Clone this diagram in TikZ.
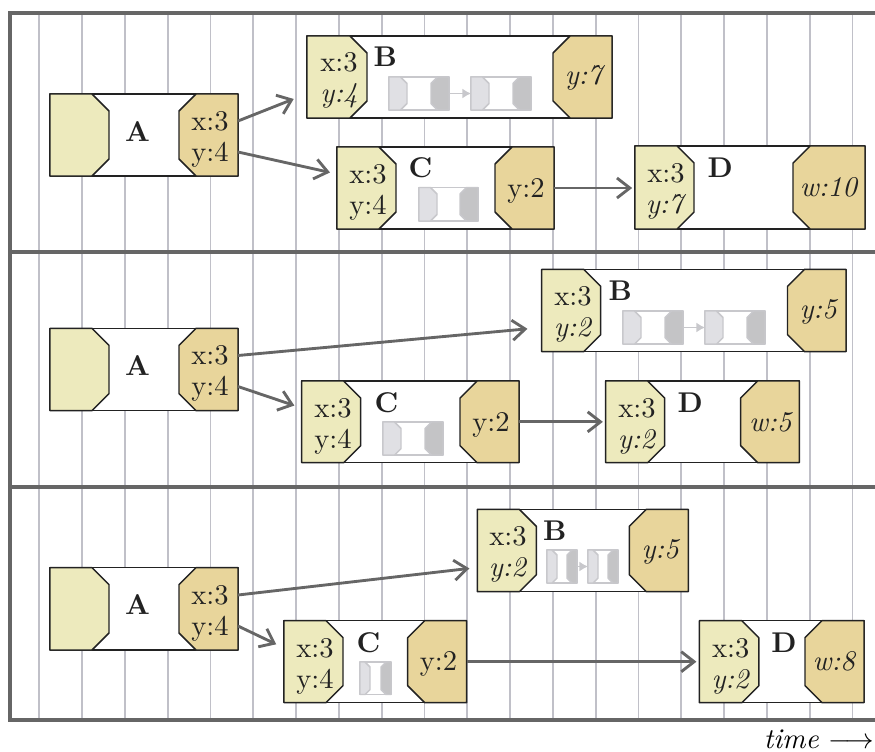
\documentclass[tikz,border=0pt]{standalone}
\usetikzlibrary{arrows.meta}
\definecolor{boxline}{RGB}{34,34,34}
\definecolor{incol}{RGB}{237,234,189}
\definecolor{outcol}{RGB}{232,213,155}
\definecolor{gridgray}{RGB}{192,192,200}
\definecolor{framegray}{RGB}{102,102,102}
\definecolor{minigray}{RGB}{200,200,204}
\definecolor{miniincol}{RGB}{224,224,228}
\definecolor{minioutcol}{RGB}{196,196,198}
\tikzset{
  jobbox/.style={draw=boxline, fill=white, line width=0.5pt, inner sep=0pt, outer sep=0pt},
  minibox/.style={draw=minigray, fill=white, line width=0.5pt, inner sep=0pt, outer sep=0pt},
  portin/.style={draw=boxline, fill=incol, line width=0.5pt},
  portout/.style={draw=boxline, fill=outcol, line width=0.5pt},
  miniin/.style={draw=minigray, fill=miniincol, line width=0.5pt},
  miniout/.style={draw=minigray, fill=minioutcol, line width=0.5pt},
  porttext/.style={inner sep=0pt, text height=6.5pt, text depth=0pt, text=boxline},
  joblabel/.style={inner sep=0pt, anchor=west, font=\bfseries, text=boxline},
  flow/.style={draw=framegray, line width=1pt, -{Straight Barb[length=4.5pt,width=7pt]}},
  miniflow/.style={draw=minigray, line width=0.6pt, -{Latex[length=3pt,width=3.5pt]}},
  gridline/.style={draw=gridgray, line width=0.6pt},
  frame/.style={draw=framegray, line width=1.4pt, line join=miter}
}
% style, name, x1, y1, x2, y2
\newcommand{\jobbox}[6]{%
  \node[#1, minimum width={(#5-#3)*0.35pt}, minimum height={(#6-#4)*0.35pt}] (#2) at ({(#3+#5)/2},{(#4+#6)/2}) {};}
% [chamfer] node, width, style
\newcommand{\inport}[4][17]{%
  \path[#4] (#2.north west) -- ([xshift={(#3-#1)*0.35pt}]#2.north west)
    -- ([xshift={#3*0.35pt}, yshift={-#1*0.35pt}]#2.north west)
    -- ([xshift={#3*0.35pt}, yshift={#1*0.35pt}]#2.south west)
    -- ([xshift={(#3-#1)*0.35pt}]#2.south west) -- (#2.south west) -- cycle;}
\newcommand{\outport}[4][17]{%
  \path[#4] (#2.north east) -- ([xshift={-(#3-#1)*0.35pt}]#2.north east)
    -- ([xshift={-#3*0.35pt}, yshift={-#1*0.35pt}]#2.north east)
    -- ([xshift={-#3*0.35pt}, yshift={#1*0.35pt}]#2.south east)
    -- ([xshift={-(#3-#1)*0.35pt}]#2.south east) -- (#2.south east) -- cycle;}
\begin{document}
\begin{tikzpicture}[x=0.35pt, y=-0.35pt, line join=round]
\useasboundingbox (0,0) rectangle (875,752);
\foreach \i in {0,...,19}
  \draw[gridline] ({39.3+42.8*\i},13) -- ({39.3+42.8*\i},720);
\draw[frame] (875,13) -- (10,13) -- (10,720) -- (875,720);
\draw[frame] (10,252) -- (875,252);
\draw[frame] (10,487) -- (875,487);

% first run
\jobbox{jobbox}{A1}{50}{94}{238}{176}
\inport{A1}{59}{portin} \outport{A1}{59}{portout}
\node[joblabel, anchor=center] (A1l) at (137.5,131.7) {A};
\node[porttext] (A1x) at (210,121) {x:3};
\node[porttext] (A1y) at (210,152) {y:4};

\jobbox{jobbox}{B1}{307}{36}{612}{118}
\inport{B1}{60}{portin} \outport{B1}{59}{portout}
\node[joblabel] (B1l) at (373,57) {B};
\node[porttext] (B1x) at (339,62.7) {x:3};
\node[porttext] (B1y) at (339,93.7) {\textit{y:4}};
\node[porttext] (B1o) at (585,75) {\textit{y:7}};
\jobbox{minibox}{B1m1}{389}{77}{449}{110}
\inport[6.5]{B1m1}{18}{miniin} \outport[6.5]{B1m1}{18}{miniout}
\jobbox{minibox}{B1m2}{471}{77}{531}{110}
\inport[6.5]{B1m2}{18}{miniin} \outport[6.5]{B1m2}{18}{miniout}
\draw[miniflow] (B1m1.east) -- (B1m2.west);

\jobbox{jobbox}{C1}{337}{147}{554}{229}
\inport{C1}{59}{portin} \outport{C1}{59}{portout}
\node[joblabel] (C1l) at (408,168.2) {C};
\node[porttext] (C1x) at (368,174) {x:3};
\node[porttext] (C1y) at (368,205) {y:4};
\node[porttext] (C1o) at (526,188) {y:2};
\jobbox{minibox}{C1m}{419}{187.5}{478}{221}
\inport[6.5]{C1m}{18}{miniin} \outport[6.5]{C1m}{18}{miniout}

\jobbox{jobbox}{D1}{635}{146}{865}{229}
\inport{D1}{59}{portin} \outport{D1}{72}{portout}
\node[joblabel] (D1l) at (707,167.5) {D};
\node[porttext] (D1x) at (666,173.5) {x:3};
\node[porttext] (D1y) at (666,204.5) {\textit{y:7}};
\node[porttext] (D1o) at (829,187.5) {\textit{w:10}};

\draw[flow, shorten >=5pt] (A1.east |- A1x) -- (B1.west |- B1y);
\draw[flow, shorten >=2.5pt] (A1.east |- A1y) -- (C1.west |- C1x);
\draw[flow, shorten >=1pt] (C1.east) -- (D1.west |- C1.east);

% second run
\jobbox{jobbox}{A2}{50}{328.3}{238}{410.7}
\inport{A2}{59}{portin} \outport{A2}{59}{portout}
\node[joblabel, anchor=center] (A2l) at (137.5,366) {A};
\node[porttext] (A2x) at (210,355.5) {x:3};
\node[porttext] (A2y) at (210,386.5) {y:4};

\jobbox{jobbox}{B2}{541.7}{269.3}{846}{351.7}
\inport{B2}{59}{portin} \outport{B2}{58.5}{portout}
\node[joblabel] (B2l) at (608,290.8) {B};
\node[porttext] (B2x) at (573,296.5) {x:3};
\node[porttext] (B2y) at (573,327.5) {\textit{y:2}};
\node[porttext] (B2o) at (819,309) {\textit{y:5}};
\jobbox{minibox}{B2m1}{623}{311}{683}{344}
\inport[6.5]{B2m1}{18}{miniin} \outport[6.5]{B2m1}{18}{miniout}
\jobbox{minibox}{B2m2}{705}{311}{765}{344}
\inport[6.5]{B2m2}{18}{miniin} \outport[6.5]{B2m2}{18}{miniout}
\draw[miniflow] (B2m1.east) -- (B2m2.west);

\jobbox{jobbox}{C2}{301.7}{381}{519}{462.7}
\inport{C2}{59}{portin} \outport{C2}{59}{portout}
\node[joblabel] (C2l) at (374,402.5) {C};
\node[porttext] (C2x) at (333,408) {x:3};
\node[porttext] (C2y) at (333,439) {y:4};
\node[porttext] (C2o) at (491,421.8) {y:2};
\jobbox{minibox}{C2m}{383}{422}{443}{455}
\inport[6.5]{C2m}{18}{miniin} \outport[6.5]{C2m}{18}{miniout}

\jobbox{jobbox}{D2}{605.7}{381}{799.3}{462.7}
\inport{D2}{59}{portin} \outport{D2}{58.6}{portout}
\node[joblabel] (D2l) at (677,402.5) {D};
\node[porttext] (D2x) at (637,408) {x:3};
\node[porttext] (D2y) at (637,439) {\textit{y:2}};
\node[porttext] (D2o) at (771,421.8) {\textit{w:5}};

\draw[flow, shorten >=5pt] (A2.east |- A2x) -- (B2.west |- B2y);
\draw[flow, shorten >=2.7pt] (A2.east |- A2y) -- (C2.west |- C2x);
\draw[flow, shorten >=1pt] (C2.east) -- (D2.west);

% third run
\jobbox{jobbox}{A3}{50}{567.7}{238}{650}
\inport{A3}{59}{portin} \outport{A3}{59}{portout}
\node[joblabel, anchor=center] (A3l) at (137.5,605) {A};
\node[porttext] (A3x) at (210,595) {x:3};
\node[porttext] (A3y) at (210,626) {y:4};

\jobbox{jobbox}{B3}{477.3}{509.3}{688.3}{591.7}
\inport{B3}{59}{portin} \outport{B3}{59}{portout}
\node[joblabel] (B3l) at (542.5,530.8) {B};
\node[porttext] (B3x) at (508,536.5) {x:3};
\node[porttext] (B3y) at (508,567.5) {\textit{y:2}};
\node[porttext] (B3o) at (661,549) {\textit{y:5}};
\jobbox{minibox}{B3m1}{547}{550}{577}{583}
\inport[5]{B3m1}{10}{miniin} \outport[5]{B3m1}{10}{miniout}
\jobbox{minibox}{B3m2}{588}{550}{618}{583}
\inport[5]{B3m2}{10}{miniin} \outport[5]{B3m2}{10}{miniout}
\draw[miniflow] (B3m1.east) -- (B3m2.west);

\jobbox{jobbox}{C3}{284}{620.7}{466.7}{702.7}
\inport{C3}{59}{portin} \outport{C3}{59}{portout}
\node[joblabel] (C3l) at (356,642.2) {C};
\node[porttext] (C3x) at (315,648) {x:3};
\node[porttext] (C3y) at (315,679) {y:4};
\node[porttext] (C3o) at (438.5,661.7) {y:2};
\jobbox{minibox}{C3m}{360}{662}{391}{694.5}
\inport[5]{C3m}{10}{miniin} \outport[5]{C3m}{10}{miniout}

\jobbox{jobbox}{D3}{699.3}{620.7}{864}{702.7}
\inport{D3}{59.5}{portin} \outport{D3}{59}{portout}
\node[joblabel] (D3l) at (770.7,642.2) {D};
\node[porttext] (D3x) at (730.7,648) {x:3};
\node[porttext] (D3y) at (730.7,679) {\textit{y:2}};
\node[porttext] (D3o) at (834.5,661.7) {\textit{w:8}};

\draw[flow, shorten >=2.8pt] (A3.east |- A3x) -- (B3.west |- B3y);
\draw[flow, shorten >=3pt] (A3.east |- A3y) -- (C3.west |- C3x);
\draw[flow, shorten >=1pt] (C3.east) -- (D3.west);

\node[anchor=base east, inner sep=0pt] (time) at (875,748) {\textit{time} $\longrightarrow$};
\end{tikzpicture}
\end{document}
